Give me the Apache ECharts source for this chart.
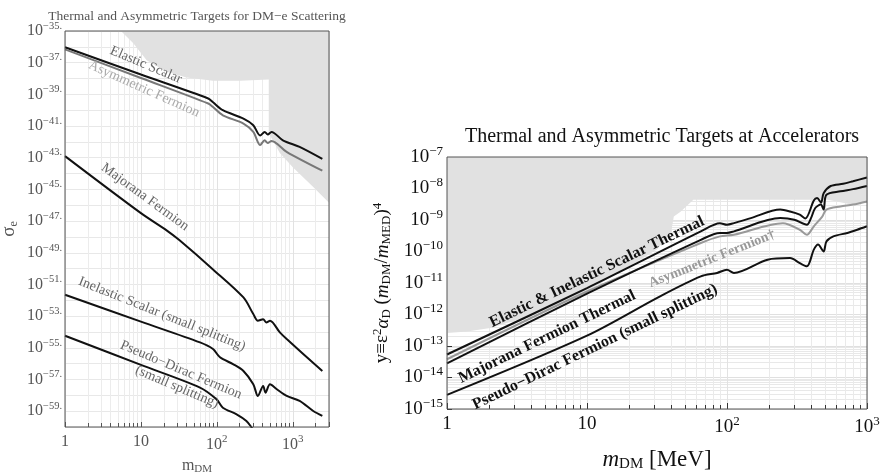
<!DOCTYPE html>
<html>
<head>
<meta charset="utf-8">
<script src="https://cdn.jsdelivr.net/npm/echarts@6/dist/echarts.min.js"></script>
<style>html,body{margin:0;background:#fff}#c{width:882px;height:473px}</style>
</head>
<body>
<div id="c"></div>
<script>
// ---- left panel: log10(sigma_e) vs m_DM [MeV] ----
const elasticX = [1, 10, 77, 89, 120, 224, 302, 372, 427, 468, 525, 741, 1230, 2450];
const elasticLog = [-36.03, -37.75, -39.26, -39.5, -40.0, -40.53, -40.95, -41.6, -41.37, -41.54, -41.37, -41.9, -42.32, -43.08];
const asymX = [1, 10, 77, 89, 120, 224, 302, 372, 427, 468, 525, 830, 2450];
const asymLog = [-36.16, -37.97, -39.58, -39.8, -40.32, -40.84, -41.37, -42.2, -41.9, -42.07, -41.94, -42.63, -43.82];
const majoranaX = [1, 10, 22, 32, 89, 224, 302, 347, 407, 447, 501, 676, 832, 2450];
const majoranaLog = [-42.9, -46.5, -47.6, -48.2, -50.05, -51.82, -52.87, -53.29, -53.19, -53.4, -53.29, -54.03, -54.45, -56.46];
const inelasticX = [1, 10, 60, 89, 110, 163, 224, 302, 347, 407, 437, 501, 617, 832, 1230, 1860, 2450];
const inelasticLog = [-51.65, -53.35, -54.66, -55.08, -55.6, -56.03, -56.46, -57.3, -58.04, -57.41, -57.83, -57.3, -57.62, -58.04, -58.35, -58.99, -59.3];
const pseudoX = [1, 10, 60, 99, 120, 182, 245, 288, 300];
const pseudoLog = [-54.24, -56.08, -57.51, -58.25, -58.78, -59.2, -59.62, -60.04, -60.2];
const boundLX = [5.46, 7.94, 11.9, 21.9, 39.8, 89, 200, 483, 483, 676, 1000, 1860, 3000];
const boundLLog = [-35, -35.78, -36.84, -37.58, -37.93, -38.14, -38.14, -38.06, -41.45, -42.7, -43.6, -44.85, -45.85];

// ---- right panel: log10(y) vs m_DM [MeV] ----
const scalarX = [1, 10, 65, 89, 100, 112, 148, 240, 282, 331, 363, 417, 440, 470, 490, 550, 676, 794, 1000];
const scalarLog = [-13.27, -11.16, -9.36, -9.1, -9.15, -9.1, -8.94, -8.67, -8.73, -8.83, -8.95, -8.38, -8.3, -8.45, -8.15, -7.92, -7.85, -7.77, -7.65];
const majThermX = [1, 10, 65, 89, 100, 112, 240, 302, 372, 398, 427, 468, 490, 513, 646, 794, 1000];
const majThermLog = [-13.55, -11.34, -9.63, -9.41, -9.41, -9.36, -8.94, -8.99, -9.15, -8.94, -8.62, -8.51, -8.67, -8.2, -8.09, -8.02, -7.92];
const asymThermX = [1, 10, 65, 89, 112, 251, 331, 372, 417, 479, 513, 646, 794, 1000];
const asymThermLog = [-13.42, -11.27, -9.73, -9.52, -9.47, -9.1, -9.31, -9.47, -9.2, -8.89, -8.67, -8.57, -8.51, -8.41];
const pseudoThermX = [1, 10, 33, 65, 85, 100, 112, 195, 282, 331, 372, 417, 447, 490, 513, 575, 724, 851, 1000];
const pseudoThermLog = [-14.55, -12.67, -11.43, -10.79, -10.68, -10.58, -10.68, -10.26, -10.21, -10.37, -10.47, -9.94, -9.78, -10.0, -9.68, -9.52, -9.41, -9.31, -9.2];
const boundRX = [1, 1.39, 2.04, 3.52, 6.1, 10.5, 18.2, 31.6, 39.8, 41.7, 46.8, 57.5, 240, 245, 250, 525, 760, 1000];
const boundRLog = [-12.59, -12.54, -12.43, -12.11, -11.74, -11.21, -10.58, -9.94, -9.41, -8.89, -8.73, -8.36, -8.36, -8.42, -8.36, -8.36, -8.5, -8.45];

const FONT = 'Liberation Serif';
const GREY = '#555';
const zip = (xs, ys) => xs.map((x, i) => [x, ys[i]]);
const pow10 = (xs, ls) => xs.map((x, i) => [x, Math.pow(10, ls[i])]);
const expOf = v => Math.round(Math.log10(v));

const chart = echarts.init(document.getElementById('c'));

function line(name, xi, data, color) {
  return {
    name, type: 'line', xAxisIndex: xi, yAxisIndex: xi, data,
    showSymbol: false, smooth: 0.3, z: 4,
    lineStyle: { color, width: 2 }
  };
}
function shade(xi, data) {
  return {
    type: 'line', xAxisIndex: xi, yAxisIndex: xi, data,
    showSymbol: false, z: 1, lineStyle: { width: 0 },
    areaStyle: { origin: 'end', color: '#e1e1e1', opacity: 1 }
  };
}
function label(x, y, rot, text, font, fill) {
  return { type: 'text', x, y, rotation: rot, z: 20,
    style: { text, font, fill, align: 'center', verticalAlign: 'middle' } };
}

const xLabelFmt = v => {
  const e = Math.log10(v);
  if (Math.abs(e - Math.round(e)) > 1e-6) return '';
  const n = Math.round(e);
  return n === 0 ? '1' : n === 1 ? '10' : '{b|10}{s|' + n + '}';
};

chart.setOption({
  animation: false,
  title: [
    { text: 'Thermal and Asymmetric Targets for DM\u2212e Scattering', left: 192, top: 4, textAlign: 'center',
      textStyle: { fontFamily: FONT, fontSize: 13.5, fontWeight: 'normal', color: GREY } },
    { text: 'Thermal and Asymmetric Targets at Accelerators', left: 657, top: 122, textAlign: 'center',
      textStyle: { fontFamily: FONT, fontSize: 20, fontWeight: 'normal', color: '#111' } }
  ],
  grid: [
    { left: 65, top: 31, width: 264, height: 396, outerBoundsMode: 'none', containLabel: false,
      show: true, borderColor: GREY, borderWidth: 1, z: 10 },
    { left: 447, top: 157, width: 420, height: 252, outerBoundsMode: 'none', containLabel: false,
      show: true, borderColor: GREY, borderWidth: 1, z: 10 }
  ],
  xAxis: [
    { type: 'log', gridIndex: 0, min: 1, max: 3000, interval: 1,
      name: '{n|m}{sub|DM}', nameLocation: 'middle', nameGap: 25,
      nameTextStyle: { rich: {
        n: { fontFamily: FONT, fontSize: 16, color: GREY },
        sub: { fontFamily: FONT, fontSize: 11, color: GREY, padding: [8, 0, 0, 0] } } },
      axisLine: { show: false, onZero: false },
      axisTick: { show: true, inside: true, length: 5, lineStyle: { color: GREY } },
      minorTick: { show: true, splitNumber: 9, length: 4, lineStyle: { color: GREY } },
      axisLabel: { formatter: xLabelFmt, margin: 7, color: GREY, fontFamily: FONT, fontSize: 16,
        rich: { b: { fontFamily: FONT, fontSize: 16, color: GREY },
                s: { fontFamily: FONT, fontSize: 11, color: GREY, padding: [0, 0, 10, 0] } } },
      splitLine: { show: true, lineStyle: { color: '#e2e2e2' } },
      minorSplitLine: { show: true, lineStyle: { color: '#ececec' } } },
    { type: 'log', gridIndex: 1, min: 1, max: 1000, interval: 1,
      name: '{i|m}{sub|DM}{n| [MeV]}', nameLocation: 'middle', nameGap: 38,
      nameTextStyle: { rich: {
        i: { fontFamily: FONT, fontSize: 23, fontStyle: 'italic', color: '#111' },
        n: { fontFamily: FONT, fontSize: 23, color: '#111' },
        sub: { fontFamily: FONT, fontSize: 15, color: '#111', padding: [10, 0, 0, 0] } } },
      axisLine: { show: false, onZero: false },
      axisTick: { show: true, inside: true, length: 6, lineStyle: { color: '#333' } },
      minorTick: { show: true, splitNumber: 9, length: 4, lineStyle: { color: '#333' } },
      axisLabel: { formatter: xLabelFmt, margin: 6, color: '#111', fontFamily: FONT, fontSize: 19,
        rich: { b: { fontFamily: FONT, fontSize: 19, color: '#111' },
                s: { fontFamily: FONT, fontSize: 13, color: '#111', padding: [0, 0, 12, 0] } } },
      splitLine: { show: true, lineStyle: { color: '#e2e2e2' } },
      minorSplitLine: { show: true, lineStyle: { color: '#eaeaea' } } }
  ],
  yAxis: [
    // exponent axis: values are log10(sigma_e)
    { type: 'value', gridIndex: 0, min: -60, max: -35, interval: 1,
      name: '{n|\u03c3}{sub|e}', nameLocation: 'middle', nameGap: 45,
      nameTextStyle: { rich: {
        n: { fontFamily: FONT, fontSize: 19, color: GREY },
        sub: { fontFamily: FONT, fontSize: 12, color: GREY, padding: [9, 0, 0, 0] } } },
      axisLine: { show: false, onZero: false }, axisTick: { show: false },
      axisLabel: {
        margin: 3, color: GREY,
        formatter: v => { const e = Math.round(v); return (-e) % 2 === 1 ? '{b|10}{s|\u2212' + (-e) + '.}' : ''; },
        rich: { b: { fontFamily: FONT, fontSize: 16, color: GREY },
                s: { fontFamily: FONT, fontSize: 10.5, color: GREY, padding: [0, 0, 10, 0] } } },
      splitLine: { show: true, lineStyle: { color: '#e8e8e8' } } },
    { type: 'log', gridIndex: 1, min: 1e-15, max: 1e-7, interval: 1,
      name: '{n|y\u2261\u03b5}{sup|2}{i|\u03b1}{sub|D}{n| (}{i|m}{sub|DM}{n|/}{i|m}{sub|MED}{n|)}{sup|4}',
      nameLocation: 'middle', nameGap: 53,
      nameTextStyle: { rich: {
        n: { fontFamily: FONT, fontSize: 19, color: '#111' },
        i: { fontFamily: FONT, fontSize: 19, fontStyle: 'italic', color: '#111' },
        sub: { fontFamily: FONT, fontSize: 13, color: '#111', padding: [8, 0, 0, 0] },
        sup: { fontFamily: FONT, fontSize: 13, color: '#111', padding: [0, 0, 10, 0] } } },
      axisLine: { show: false, onZero: false },
      axisTick: { show: true, inside: true, length: 5, lineStyle: { color: '#333' } },
      axisLabel: {
        margin: 4, color: '#111',
        formatter: v => '{b|10}{s|\u2212' + (-expOf(v)) + '}',
        rich: { b: { fontFamily: FONT, fontSize: 19, color: '#111' },
                s: { fontFamily: FONT, fontSize: 13, color: '#111', padding: [0, 0, 11, 0] } } },
      splitLine: { show: true, lineStyle: { color: '#e0e0e0' } },
      minorTick: { show: false, splitNumber: 9 },
      minorSplitLine: { show: true, lineStyle: { color: '#e8e8e8' } } }
  ],
  graphic: [
    // left panel curve labels
    label(146, 65, -0.40, 'Elastic Scalar', '14px ' + FONT, '#666'),
    label(144, 89, -0.42, 'Asymmetric Fermion', '14px ' + FONT, '#aaa'),
    label(145, 197, -0.63, 'Majorana Fermion', '14px ' + FONT, '#666'),
    label(162, 314, -0.38, 'Inelastic Scalar (small splitting)', '14px ' + FONT, '#666'),
    label(181, 370, -0.40, 'Pseudo\u2212Dirac Fermion', '14px ' + FONT, '#666'),
    label(177, 387, -0.40, '(small splitting)', '14px ' + FONT, '#666'),
    // right panel curve labels
    label(597, 272, 0.45, 'Elastic & Inelastic Scalar Thermal', 'bold 16px ' + FONT, '#111'),
    label(547, 337, 0.45, 'Majorana Fermion Thermal', 'bold 16px ' + FONT, '#111'),
    label(595, 347, 0.45, 'Pseudo\u2212Dirac Fermion (small splitting)', 'bold 16px ' + FONT, '#111'),
    label(712, 259, 0.38, 'Asymmetric Fermion\u2020', 'bold 14px ' + FONT, '#999')
  ],
  series: [
    shade(0, zip(boundLX, boundLLog)),
    line('Elastic Scalar', 0, zip(elasticX, elasticLog), '#111'),
    line('Asymmetric Fermion', 0, zip(asymX, asymLog), '#777'),
    line('Majorana Fermion', 0, zip(majoranaX, majoranaLog), '#111'),
    line('Inelastic Scalar (small splitting)', 0, zip(inelasticX, inelasticLog), '#111'),
    line('Pseudo-Dirac Fermion (small splitting)', 0, zip(pseudoX, pseudoLog), '#111'),
    shade(1, pow10(boundRX, boundRLog)),
    line('Asymmetric Fermion', 1, pow10(asymThermX, asymThermLog), '#999'),
    line('Elastic & Inelastic Scalar Thermal', 1, pow10(scalarX, scalarLog), '#111'),
    line('Majorana Fermion Thermal', 1, pow10(majThermX, majThermLog), '#111'),
    line('Pseudo-Dirac Fermion (small splitting)', 1, pow10(pseudoThermX, pseudoThermLog), '#111')
  ]
});
</script>
</body>
</html>
